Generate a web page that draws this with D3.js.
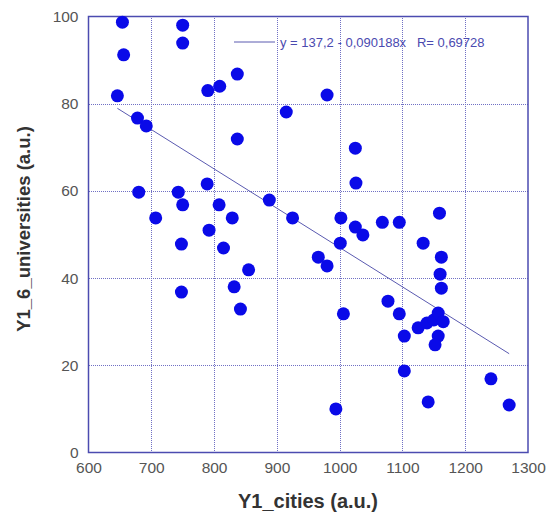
<!DOCTYPE html>
<html>
<head>
<meta charset="utf-8">
<script src="https://cdn.jsdelivr.net/npm/d3@7"></script>
<style>
  body { margin: 0; background: #fff; }
  svg { display: block; font-family: "Liberation Sans", Arial, sans-serif; }
</style>
</head>
<body>
<svg id="chart" width="549" height="519"></svg>
<script>
// Y1_cities (x) and Y1_6_universities (y)
const cities = [654, 656, 646, 750, 750, 790, 809, 837, 837, 678, 692, 680, 707, 743, 750, 748,
  789, 792, 808, 815, 829, 748, 832, 842, 855, 888, 925, 915, 980, 966, 980, 1002, 1001, 1006,
  994, 1025, 1026, 1025, 1037, 1068, 1095, 1159, 1133, 1162, 1160, 1162, 1077, 1095, 1103,
  1125, 1139, 1150, 1157, 1165, 1157, 1152, 1103, 1241, 1141, 1270];
const universities = [98.7, 91.2, 81.8, 98, 93.9, 83, 84, 86.8, 71.9, 76.7, 74.9, 59.7, 53.8, 59.7,
  56.8, 47.8, 61.6, 51, 56.8, 46.9, 53.8, 36.8, 38, 32.9, 41.9, 57.9, 53.8, 78.1, 82, 44.8, 42.8,
  53.8, 48, 31.8, 10, 69.8, 61.8, 51.7, 49.9, 52.8, 52.8, 54.9, 48, 44.8, 40.9, 37.7, 34.7, 31.8,
  26.7, 28.6, 29.7, 30.4, 32, 30, 26.7, 24.7, 18.7, 16.9, 11.6, 10.9];
const xTicks = [600, 700, 800, 900, 1000, 1100, 1200, 1300];
const yTicks = [0, 20, 40, 60, 80, 100];
const fitA = 137.2, fitB = -0.090188;
const legendText = "y = 137,2 - 0,090188x   R= 0,69728";

const svg = d3.select("#chart");
const margin = { top: 16.5, right: 21, bottom: 66.5, left: 88.5 };
const width = 549, height = 519;
const frameColor = "#4b4bb0";
const gridColor = "#7070c4";

const x = d3.scaleLinear().domain([600, 1300]).range([margin.left, width - margin.right]);
const y = d3.scaleLinear().domain([0, 100]).range([height - margin.bottom, margin.top]);
const px = v => Math.round(v) + 0.5;

// grid
svg.append("g")
  .selectAll("line")
  .data(xTicks.slice(1, -1))
  .join("line")
  .attr("x1", d => px(x(d))).attr("x2", d => px(x(d)))
  .attr("y1", y(0)).attr("y2", y(100))
  .attr("stroke", gridColor).attr("stroke-width", 1)
  .attr("shape-rendering", "crispEdges")
  .attr("stroke-dasharray", "1,1");

svg.append("g")
  .selectAll("line")
  .data(yTicks.slice(1, -1))
  .join("line")
  .attr("x1", x(600)).attr("x2", x(1300))
  .attr("y1", d => px(y(d))).attr("y2", d => px(y(d)))
  .attr("stroke", gridColor).attr("stroke-width", 1)
  .attr("shape-rendering", "crispEdges")
  .attr("stroke-dasharray", "1,1");

// axes (labels only, frame drawn separately)
const xAxis = g => g
  .attr("transform", `translate(0,${y(0)})`)
  .call(d3.axisBottom(x).tickValues(xTicks).tickFormat(d3.format("d")).tickSize(0).tickPadding(9))
  .call(g => g.select(".domain").remove());

const yAxis = g => g
  .attr("transform", `translate(${x(600)},0)`)
  .call(d3.axisLeft(y).tickValues(yTicks).tickFormat(d3.format("d")).tickSize(0).tickPadding(10))
  .call(g => g.select(".domain").remove());

svg.append("g").call(xAxis);
svg.append("g").call(yAxis);
svg.selectAll(".tick text")
  .attr("fill", "#555")
  .style("font-size", "15.5px")
  .style("font-family", "'Liberation Sans', Arial, sans-serif");

// frame
svg.append("rect")
  .attr("x", x(600)).attr("y", y(100))
  .attr("width", x(1300) - x(600))
  .attr("height", y(0) - y(100))
  .attr("fill", "none")
  .attr("stroke", frameColor)
  .attr("stroke-width", 1.5);

// regression line over the data extent
const [xMin, xMax] = d3.extent(cities);
svg.append("line")
  .attr("x1", x(xMin)).attr("y1", y(fitA + fitB * xMin))
  .attr("x2", x(xMax)).attr("y2", y(fitA + fitB * xMax))
  .attr("stroke", "#5a5ab0")
  .attr("stroke-width", 1);

// points
svg.append("g")
  .attr("fill", "#0a0ae8")
  .selectAll("circle")
  .data(cities.map((c, i) => [c, universities[i]]))
  .join("circle")
  .attr("cx", d => x(d[0]))
  .attr("cy", d => y(d[1]))
  .attr("r", 6.5);

// legend
svg.append("line")
  .attr("x1", 234).attr("x2", 275)
  .attr("y1", 42).attr("y2", 42)
  .attr("stroke", "#5a5ab0").attr("stroke-width", 1);

svg.append("text")
  .attr("x", 280).attr("y", 46.5)
  .attr("fill", "#4a4ab0")
  .style("font-size", "13px")
  .style("white-space", "pre")
  .attr("xml:space", "preserve")
  .text(legendText);

// axis titles
svg.append("text")
  .attr("x", 308).attr("y", 508)
  .attr("text-anchor", "middle")
  .attr("fill", "#333")
  .style("font-size", "20px")
  .style("font-weight", "bold")
  .text("Y1_cities (a.u.)");

svg.append("text")
  .attr("transform", "translate(30,229) rotate(-90)")
  .attr("text-anchor", "middle")
  .attr("fill", "#333")
  .style("font-size", "18.5px")
  .style("font-weight", "bold")
  .text("Y1_6_universities (a.u.)");
</script>
</body>
</html>
